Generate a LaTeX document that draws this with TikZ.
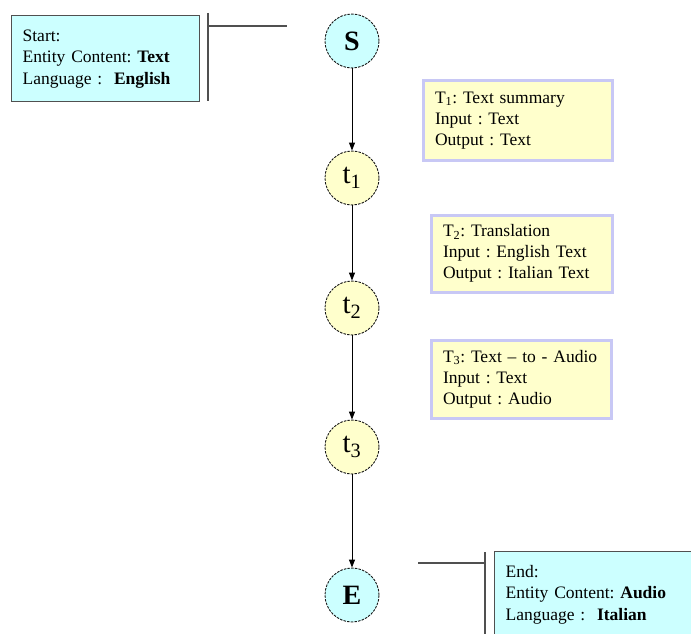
\documentclass[tikz,border=0pt]{standalone}
\usepackage{fontspec}
\setmainfont{Liberation Serif}
\usetikzlibrary{positioning,arrows.meta}
\definecolor{entcyan}{RGB}{204,255,255}
\definecolor{taskyel}{RGB}{255,255,204}
\definecolor{taskrim}{RGB}{200,200,245}
\definecolor{barline}{RGB}{80,80,80}
\frenchspacing
\tikzset{
  stnode/.style={circle, draw=black!90, dash pattern=on 2.5pt off 1.2pt, line width=0.9pt,
                 minimum size=54pt, inner sep=0pt, font=\fontsize{29}{30}\selectfont},
  endnode/.style={stnode, fill=entcyan, font=\fontsize{28}{30}\selectfont\bfseries},
  tasknode/.style={stnode, fill=taskyel},
  entbox/.style={draw=barline, line width=1.3pt, fill=entcyan, anchor=north west, align=left,
                 inner xsep=11pt, inner ysep=0pt, font=\fontsize{17.5}{21.5}\selectfont},
  taskbox/.style={draw=taskrim, line width=3pt, fill=taskyel, anchor=north west, align=left,
                  inner xsep=12pt, inner ysep=0pt, font=\fontsize{17.5}{21}\selectfont},
  flow/.style={-{Triangle[length=8pt,width=6pt]}, line width=0.9pt},
  bar/.style={draw=barline, line width=1.5pt},
}
\begin{document}
\begin{tikzpicture}[x=1pt, y=-1pt]
  \useasboundingbox (0,0) rectangle (691,634);
  % states
  \node[endnode] (s) at (352,41) {S};
  \node[tasknode] (t1) at (352,178) {t\textsubscript{1}};
  \node[tasknode] (t2) at (352,308) {t\textsubscript{2}};
  \node[tasknode] (t3) at (352,447) {t\textsubscript{3}};
  \node[endnode] (e) at (352,595) {E};
  \draw[flow] (s) -- (t1);
  \draw[flow] (t1) -- (t2);
  \draw[flow] (t2) -- (t3);
  \draw[flow] (t3) -- (e);
  % entity boxes
  \node[entbox, minimum width=188pt, minimum height=86pt, text width=166pt] (startbox) at (11,15)
    {Start:\\ Entity Content: \textbf{Text}\\ Language :\ \ \textbf{English}};
  \node[entbox, minimum width=200pt, minimum height=86pt, text width=178pt] (endbox) at (494,551)
    {End:\\ Entity Content: \textbf{Audio}\\ Language :\ \ \textbf{Italian}};
  % task boxes
  \node[taskbox, minimum width=189pt, minimum height=79pt, text width=165pt] (task1) at (421.5,79.5)
    {T\textsubscript{1}: Text summary\\ Input : Text\\ Output : Text};
  \node[taskbox, minimum width=181pt, minimum height=77pt, text width=157pt] (task2) at (429.5,213.5)
    {T\textsubscript{2}: Translation\\ Input : English Text\\ Output : Italian Text};
  \node[taskbox, minimum width=180pt, minimum height=78pt, text width=156pt] (task3) at (429.5,338.5)
    {T\textsubscript{3}: Text -- to - Audio\\ Input : Text\\ Output : Audio};
  % brackets
  \coordinate (sbartop) at (208,13);
  \coordinate (sbarbot) at (208,101);
  \coordinate (slinka) at (208,26);
  \coordinate (slinkb) at (287,26);
  \coordinate (ebartop) at (485,552);
  \coordinate (ebarbot) at (485,640);
  \coordinate (elinka) at (418,563);
  \coordinate (elinkb) at (485,563);
  \draw[bar] (sbartop) -- (sbarbot);
  \draw[bar] (slinka) -- (slinkb);
  \draw[bar] (ebartop) -- (ebarbot);
  \draw[bar] (elinka) -- (elinkb);
\end{tikzpicture}
\end{document}
